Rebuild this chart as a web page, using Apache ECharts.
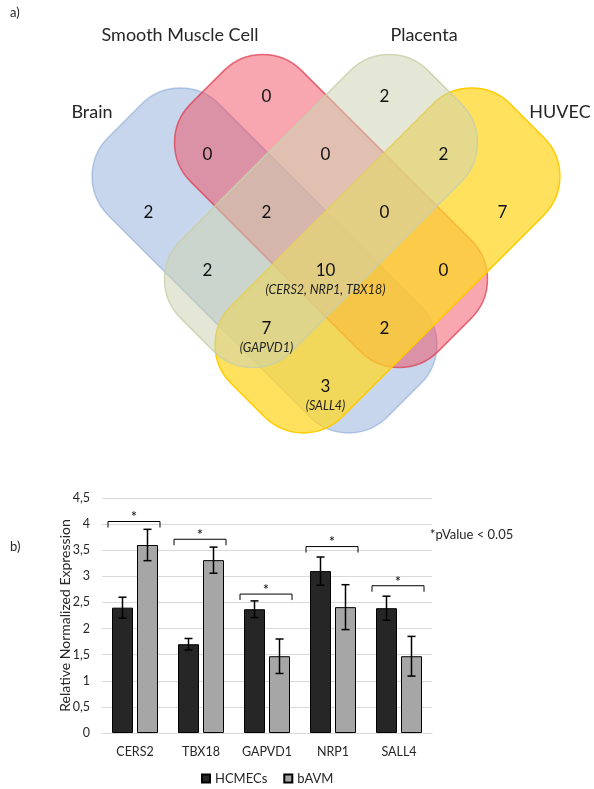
<!DOCTYPE html>
<html>
<head>
<meta charset="utf-8">
<script src="https://cdn.jsdelivr.net/npm/echarts@6/dist/echarts.min.js"></script>
<style>
  html, body { margin: 0; padding: 0; background: #ffffff; }
  #chart { width: 594px; height: 789px; }
</style>
</head>
<body>
<div id="chart"></div>
<script>
// ---------- Venn diagram data ----------
const vennSets = ['Brain', 'Smooth Muscle Cell', 'HUVEC', 'Placenta'];
// region codes: B = Brain, S = Smooth Muscle Cell, P = Placenta, H = HUVEC
const vennRegions = ['B', 'S', 'P', 'H', 'BS', 'SP', 'PH', 'BP', 'SH', 'BH', 'BSP', 'SPH', 'BPH', 'BSH', 'BSPH'];
const vennCounts  = [ 2,   0,   2,   7,   0,    0,    2,    2,    0,    3,    2,     0,     7,     2,     10];
const vennGeneRegions = ['BSPH', 'BPH', 'BH'];
const vennGeneNames   = ['CERS2, NRP1, TBX18', 'GAPVD1', 'SALL4'];

// ---------- qPCR bar chart data ----------
const genes = ['CERS2', 'TBX18', 'GAPVD1', 'NRP1', 'SALL4'];
const hcmecs    = [2.40, 1.70, 2.37, 3.10, 2.39];
const hcmecsErr = [0.20, 0.11, 0.16, 0.27, 0.23];
const bavm      = [3.60, 3.31, 1.47, 2.41, 1.47];
const bavmErr   = [0.30, 0.25, 0.33, 0.43, 0.38];
const bracketLevels = [4.05, 3.71, 2.66, 3.57, 2.82];
const seriesNames = ['HCMECs', 'bAVM'];

// ---------- layout ----------
const FONT = 'Lato, "Open Sans", sans-serif';
const TEXT = '#262626';

// rounded rectangles, rotated 45 degrees (drawn in vennSets order)
const shapeLayout = {
  'Brain':              { cx: 264.5, cy: 260.5, w: 395, h: 157, rot: -Math.PI / 4,
                          fill: 'rgba(143,173,219,0.5)', stroke: 'rgba(130,160,210,0.55)' },
  'Smooth Muscle Cell': { cx: 331,   cy: 211,   w: 350, h: 157, rot: -Math.PI / 4,
                          fill: 'rgba(242,78,95,0.5)',  stroke: 'rgba(222,60,80,0.75)' },
  'HUVEC':              { cx: 387.5, cy: 260.5, w: 395, h: 157, rot:  Math.PI / 4,
                          fill: 'rgba(255,215,40,0.75)', stroke: 'rgba(255,204,0,1)' },
  'Placenta':           { cx: 321,   cy: 211,   w: 350, h: 157, rot:  Math.PI / 4,
                          fill: 'rgba(205,212,178,0.55)', stroke: 'rgba(200,208,168,0.8)' }
};
const CORNER_R = 55;
const setLabelPos = {
  'Brain': [92, 112], 'Smooth Muscle Cell': [180, 35], 'Placenta': [424, 35], 'HUVEC': [560, 112]
};

// region label lattice: rows along one diagonal, columns along the other
function regionPos(code) {
  const hasB = code.includes('B'), hasS = code.includes('S');
  const hasP = code.includes('P'), hasH = code.includes('H');
  const j = hasB && !hasS ? 0 : hasB && hasS ? 1 : hasS ? 2 : 3;
  const i = hasP && !hasH ? 1 : hasP && hasH ? 2 : hasH ? 3 : 0;
  return [325.5 + 59 * (i + j - 3), 213 + 58 * (i - j)];
}

const graphics = [];
vennSets.forEach(name => {
  const s = shapeLayout[name];
  graphics.push({
    type: 'rect', x: s.cx, y: s.cy, rotation: s.rot, z: 1,
    shape: { x: -s.w / 2, y: -s.h / 2, width: s.w, height: s.h, r: CORNER_R },
    style: { fill: s.fill, stroke: s.stroke, lineWidth: 1.5 }
  });
});
vennSets.forEach(name => {
  const p = setLabelPos[name];
  graphics.push({
    type: 'text', x: p[0], y: p[1], z: 5,
    style: { text: name, fontSize: 18, fontFamily: FONT, fill: TEXT, align: 'center', verticalAlign: 'middle' }
  });
});
vennRegions.forEach((code, k) => {
  const p = regionPos(code);
  graphics.push({
    type: 'text', x: p[0], y: p[1], z: 5,
    style: { text: String(vennCounts[k]), fontSize: 17, fontFamily: FONT, fill: '#111', align: 'center', verticalAlign: 'middle' }
  });
});
vennGeneRegions.forEach((code, k) => {
  const p = regionPos(code);
  graphics.push({
    type: 'text', x: p[0], y: p[1] + 19, z: 5,
    style: { text: '(' + vennGeneNames[k] + ')', fontSize: 12.5, fontStyle: 'italic', fontFamily: FONT,
             fill: '#222', align: 'center', verticalAlign: 'middle' }
  });
});
// panel tags and significance note
graphics.push(
  { type: 'text', x: 10, y: 13, z: 5, style: { text: 'a)', fontSize: 13, fontFamily: FONT, fill: TEXT, verticalAlign: 'middle' } },
  { type: 'text', x: 10, y: 547, z: 5, style: { text: 'b)', fontSize: 13, fontFamily: FONT, fill: TEXT, verticalAlign: 'middle' } },
  { type: 'text', x: 430, y: 535, z: 5, style: { text: '*pValue < 0.05', fontSize: 13, fontFamily: FONT, fill: TEXT, verticalAlign: 'middle' } }
);

const BAR_W = 21, BAR_GAP = 4;
const OFFSET = (BAR_W + BAR_GAP) / 2;

function errorBarItem(params, api) {
  const idx = api.value(0), val = api.value(1), err = api.value(2), side = api.value(3);
  const c = api.coord([idx, val]);
  const x = c[0] + side * OFFSET;
  const yTop = api.coord([idx, val + err])[1];
  const yBot = api.coord([idx, val - err])[1];
  const st = { stroke: '#000', lineWidth: 1.5 };
  return {
    type: 'group',
    children: [
      { type: 'line', shape: { x1: x, y1: yTop, x2: x, y2: yBot }, style: st },
      { type: 'line', shape: { x1: x - 4, y1: yTop, x2: x + 4, y2: yTop }, style: st },
      { type: 'line', shape: { x1: x - 4, y1: yBot, x2: x + 4, y2: yBot }, style: st }
    ]
  };
}

function bracketItem(params, api) {
  const c = api.coord([api.value(0), api.value(1)]);
  const x1 = c[0] - 27, x2 = c[0] + 25, y = c[1];
  return {
    type: 'group',
    children: [
      { type: 'polyline', shape: { points: [[x1, y + 6], [x1, y], [x2, y], [x2, y + 6]] },
        style: { stroke: '#000', lineWidth: 1, fill: null } },
      { type: 'text', x: c[0] - 1, y: y - 4,
        style: { text: '*', fontSize: 15, fontFamily: FONT, fill: '#000', align: 'center', verticalAlign: 'middle' } }
    ]
  };
}

const chart = echarts.init(document.getElementById('chart'), null, { renderer: 'canvas' });
chart.setOption({
  backgroundColor: '#ffffff',
  animation: false,
  textStyle: { fontFamily: FONT },
  graphic: graphics,
  grid: { left: 102, right: 162, top: 498, bottom: 56 },
  legend: {
    data: seriesNames, left: 196, top: 767, icon: 'rect', itemWidth: 8, itemHeight: 8, itemGap: 16,
    textStyle: { fontSize: 13, color: TEXT, fontFamily: FONT }
  },
  xAxis: {
    type: 'category', data: genes,
    axisLine: { lineStyle: { color: '#d9d9d9', width: 1 } },
    axisTick: { show: false },
    axisLabel: { color: TEXT, fontSize: 12.5, margin: 12, fontFamily: FONT }
  },
  yAxis: {
    type: 'value', min: 0, max: 4.5, interval: 0.5,
    name: 'Relative Normalized Expression', nameLocation: 'middle', nameRotate: 90, nameGap: 30,
    nameMoveOverlap: false,
    nameTextStyle: { fontSize: 14, color: TEXT, fontFamily: FONT },
    axisLine: { show: false }, axisTick: { show: false },
    axisLabel: { color: TEXT, fontSize: 12.5, margin: 12, fontFamily: FONT,
                 formatter: v => String(v).replace('.', ',') },
    splitLine: { lineStyle: { color: '#d9d9d9', width: 1 } }
  },
  series: [
    { name: seriesNames[0], type: 'bar', data: hcmecs, barWidth: BAR_W, barGap: (BAR_GAP / BAR_W * 100) + '%',
      itemStyle: { color: '#262626', borderColor: '#000', borderWidth: 1 } },
    { name: seriesNames[1], type: 'bar', data: bavm, barWidth: BAR_W,
      itemStyle: { color: '#a6a6a6', borderColor: '#000', borderWidth: 1 } },
    { type: 'custom', renderItem: errorBarItem, z: 5,
      data: hcmecs.map((v, i) => [i, v, hcmecsErr[i], -1]).concat(bavm.map((v, i) => [i, v, bavmErr[i], 1])) },
    { type: 'custom', renderItem: bracketItem, z: 5,
      data: bracketLevels.map((v, i) => [i, v]) }
  ]
});
</script>
</body>
</html>
